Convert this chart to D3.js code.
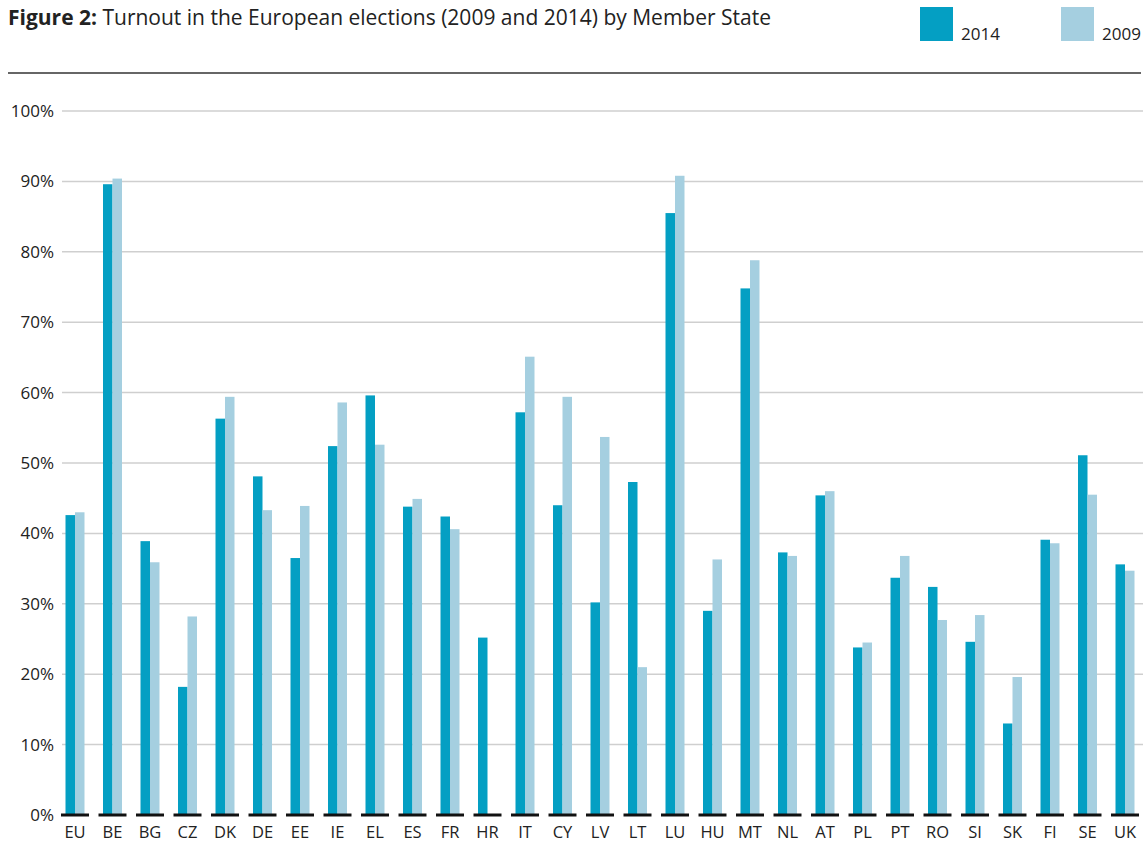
<!DOCTYPE html>
<html>
<head>
<meta charset="utf-8">
<script src="https://cdn.jsdelivr.net/npm/d3@7"></script>
<style>
  body { margin: 0; background: #fff; }
  text { font-family: "Open Sans", "DejaVu Sans", sans-serif; fill: #222; }
</style>
</head>
<body>
<div id="chart"></div>
<script>
var countries = ["EU", "BE", "BG", "CZ", "DK", "DE", "EE", "IE", "EL", "ES", "FR", "HR", "IT", "CY", "LV",
  "LT", "LU", "HU", "MT", "NL", "AT", "PL", "PT", "RO", "SI", "SK", "FI", "SE", "UK"];
var turnout2014 = [42.6, 89.6, 38.9, 18.2, 56.3, 48.1, 36.5, 52.4, 59.6, 43.8, 42.4, 25.2, 57.2, 44.0, 30.2,
  47.3, 85.5, 29.0, 74.8, 37.3, 45.4, 23.8, 33.7, 32.4, 24.6, 13.0, 39.1, 51.1, 35.6];
var turnout2009 = [43.0, 90.4, 35.9, 28.2, 59.4, 43.3, 43.9, 58.6, 52.6, 44.9, 40.6, null, 65.1, 59.4, 53.7,
  21.0, 90.8, 36.3, 78.8, 36.8, 46.0, 24.5, 36.8, 27.7, 28.4, 19.6, 38.6, 45.5, 34.7];
var yTicks = [0, 10, 20, 30, 40, 50, 60, 70, 80, 90, 100];
var seriesNames = ["2014", "2009"];

var svgWidth = 1148;
var svgHeight = 843;
var colors = { "2014": "#049fc3", "2009": "#a5cfe0" };

var svg = d3.select("#chart")
  .append("svg")
  .attr("width", svgWidth)
  .attr("height", svgHeight);

// title
var title = svg.append("text")
  .attr("x", 8)
  .attr("y", 25)
  .attr("font-size", "21px");
title.append("tspan").attr("font-weight", "bold").text("Figure 2:");
title.append("tspan").text(" Turnout in the European elections (2009 and 2014) by Member State");

// legend
var legendX = { "2014": 920, "2009": 1061 };
seriesNames.forEach(function(s) {
  svg.append("rect")
    .attr("x", legendX[s])
    .attr("y", 7)
    .attr("width", 33)
    .attr("height", 34)
    .style("fill", colors[s]);
  svg.append("text")
    .attr("x", legendX[s] + 41)
    .attr("y", 40)
    .attr("font-size", "17px")
    .text(s);
});

svg.append("line")
  .attr("x1", 8).attr("x2", 1141)
  .attr("y1", 73).attr("y2", 73)
  .style("stroke", "#333")
  .style("stroke-width", 1.5);

// scales
var xScale = d3.scaleBand()
  .domain(countries)
  .range([56.25, 1143.75])
  .padding(0);

var yScale = d3.scaleLinear()
  .domain([0, 100])
  .range([815, 111]);

// grid lines
svg.append("g")
  .selectAll("line")
  .data(yTicks.filter(d => d > 0))
  .enter()
  .append("line")
  .attr("x1", 62)
  .attr("x2", 1143)
  .attr("y1", d => yScale(d))
  .attr("y2", d => yScale(d))
  .style("stroke", "#cfcfcf")
  .style("stroke-width", 1.5);

// y labels
svg.append("g")
  .selectAll("text")
  .data(yTicks)
  .enter()
  .append("text")
  .attr("x", 54)
  .attr("y", d => yScale(d))
  .attr("dy", "0.35em")
  .attr("text-anchor", "end")
  .attr("font-size", "17px")
  .text(d => d + "%");

var barW = 9.5;

// bars
var groups = svg.append("g")
  .selectAll("g")
  .data(countries)
  .enter()
  .append("g")
  .attr("transform", d => `translate(${xScale(d) + xScale.bandwidth() / 2}, 0)`);

groups.append("rect")
  .attr("x", -barW)
  .attr("width", barW)
  .attr("y", (d, i) => yScale(turnout2014[i]))
  .attr("height", (d, i) => yScale(0) - yScale(turnout2014[i]))
  .style("fill", colors["2014"]);

groups.filter((d, i) => turnout2009[i] != null)
  .append("rect")
  .attr("x", 0)
  .attr("width", barW)
  .attr("y", d => yScale(turnout2009[countries.indexOf(d)]))
  .attr("height", d => yScale(0) - yScale(turnout2009[countries.indexOf(d)]))
  .style("fill", colors["2009"]);

// baseline segments
groups.append("line")
  .attr("x1", -14)
  .attr("x2", 14)
  .attr("y1", yScale(0))
  .attr("y2", yScale(0))
  .style("stroke", "#111")
  .style("stroke-width", 3);

// category labels
groups.append("text")
  .attr("x", 0)
  .attr("y", 838)
  .attr("text-anchor", "middle")
  .attr("font-size", "16.5px")
  .text(d => d);
</script>
</body>
</html>
